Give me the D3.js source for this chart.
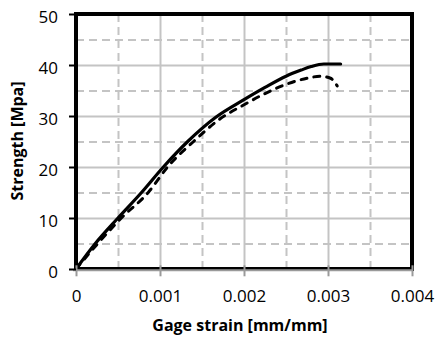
<!DOCTYPE html>
<html>
<head>
<meta charset="utf-8">
<script src="https://cdn.jsdelivr.net/npm/d3@7"></script>
<style>
  html, body { margin: 0; padding: 0; background: #fff; }
  svg { display: block; }
  text { font-family: "Open Sans", "DejaVu Sans", sans-serif; fill: #000; }
</style>
</head>
<body>
<svg id="chart" width="437" height="337"></svg>
<script>
// Stress–strain readings for the two specimens
const strainSolid = [0, 0.00023, 0.0005, 0.00078, 0.00104, 0.00133, 0.00166, 0.002, 0.00225, 0.0025, 0.00268, 0.0028, 0.00295, 0.00315];
const stressSolid = [0, 5, 10, 15, 20, 25, 29.7, 33.2, 35.6, 37.8, 39.0, 39.7, 40.2, 40.2];

const strainDashed = [0, 0.00026, 0.00054, 0.00086, 0.00109, 0.0014, 0.00172, 0.002, 0.00225, 0.0025, 0.00275, 0.00291, 0.00303, 0.00311];
const stressDashed = [0, 5, 10, 15, 20, 25, 29.5, 32.2, 34.4, 36.2, 37.4, 37.8, 37.4, 35.9];

// Axis ticks
const xMajorTicks = [0, 0.001, 0.002, 0.003, 0.004];
const xTickLabels = ["0", "0.001", "0.002", "0.003", "0.004"];
const xMinorTicks = [0.0005, 0.0015, 0.0025, 0.0035];
const yMajorTicks = [0, 10, 20, 30, 40, 50];
const yTickLabels = ["0", "10", "20", "30", "40", "50"];
const yMinorTicks = [5, 15, 25, 35, 45];

const svg = d3.select("#chart");
const plotL = 76, plotR = 412, plotT = 14, plotB = 269;

const x = d3.scaleLinear().domain([0, 0.004]).range([plotL, plotR]);
const y = d3.scaleLinear().domain([0, 50]).range([plotB, plotT]);

const gridColor = "#c4c4c4";
const grid = svg.append("g").attr("class", "grid");

// Solid gridlines at the labelled steps
const gridMajor = d3.axisBottom(x).tickValues(xMajorTicks.slice(1, -1)).tickSize(-(plotB - plotT)).tickFormat("");
const gvx = grid.append("g").attr("transform", `translate(0,${plotB})`).call(gridMajor);
const gridMajorY = d3.axisLeft(y).tickValues(yMajorTicks.slice(1, -1)).tickSize(-(plotR - plotL)).tickFormat("");
const ghy = grid.append("g").attr("transform", `translate(${plotL},0)`).call(gridMajorY);

// Dashed gridlines at the half steps
const gridMinor = d3.axisBottom(x).tickValues(xMinorTicks).tickSize(-(plotB - plotT)).tickFormat("");
const gvxm = grid.append("g").attr("transform", `translate(0,${plotB})`).call(gridMinor);
const gridMinorY = d3.axisLeft(y).tickValues(yMinorTicks).tickSize(-(plotR - plotL)).tickFormat("");
const ghym = grid.append("g").attr("transform", `translate(${plotL},0)`).call(gridMinorY);

[gvx, ghy, gvxm, ghym].forEach(g => {
  g.select(".domain").remove();
  g.selectAll(".tick line").attr("stroke", gridColor).attr("stroke-width", 2);
});
[gvxm, ghym].forEach(g => g.selectAll(".tick line").attr("stroke-dasharray", "8,5"));

// Curves
const line = d3.line().x(d => x(d[0])).y(d => y(d[1])).curve(d3.curveMonotoneX);
const solidData = strainSolid.map((s, i) => [s, stressSolid[i]]);
const dashedData = strainDashed.map((s, i) => [s, stressDashed[i]]);

svg.append("path").datum(dashedData).attr("d", line)
  .attr("fill", "none").attr("stroke", "#000").attr("stroke-width", 3)
  .attr("stroke-dasharray", "6,7").attr("stroke-linecap", "round");
svg.append("path").datum(solidData).attr("d", line)
  .attr("fill", "none").attr("stroke", "#000").attr("stroke-width", 3.2)
  .attr("stroke-linejoin", "round").attr("stroke-linecap", "round");

// Plot frame
svg.append("rect")
  .attr("x", plotL).attr("y", plotT)
  .attr("width", plotR - plotL).attr("height", plotB - plotT)
  .attr("fill", "none").attr("stroke", "#000").attr("stroke-width", 4);

// X axis (grey line with crossing ticks)
const xAxis = d3.axisBottom(x).tickValues(xMajorTicks).tickSize(0).tickFormat((d, i) => xTickLabels[i]);
const gx = svg.append("g").attr("transform", `translate(0,${plotB + 1.3})`).call(xAxis);
gx.select(".domain").remove();
gx.selectAll(".tick text").attr("y", 32).attr("dy", 0).style("font-size", "17px").style("font-family", null);
gx.append("line").attr("x1", plotL - 3).attr("x2", plotR).attr("y1", 0).attr("y2", 0)
  .attr("stroke", "#9a9a9a").attr("stroke-width", 2);
gx.selectAll(".tick").append("line")
  .attr("y1", -5).attr("y2", 6).attr("stroke", "#9a9a9a").attr("stroke-width", 2);

// Y axis
const yAxis = d3.axisLeft(y).tickValues(yMajorTicks).tickSize(7).tickPadding(11).tickFormat((d, i) => yTickLabels[i]);
const gy = svg.append("g").attr("transform", `translate(${plotL},0)`).call(yAxis);
gy.select(".domain").remove();
gy.selectAll(".tick line").attr("stroke", "#000").attr("stroke-width", 2);
gy.selectAll(".tick text").attr("dy", "0.36em").attr("y", 2).style("font-size", "17px").style("font-family", null);

// Axis titles
svg.append("text")
  .attr("x", 240).attr("y", 331)
  .attr("text-anchor", "middle")
  .style("font-size", "16px").style("font-weight", "bold")
  .text("Gage strain [mm/mm]");
svg.append("text")
  .attr("transform", `translate(23,141) rotate(-90)`)
  .attr("text-anchor", "middle")
  .style("font-size", "16px").style("font-weight", "bold")
  .text("Strength [Mpa]");
</script>
</body>
</html>
